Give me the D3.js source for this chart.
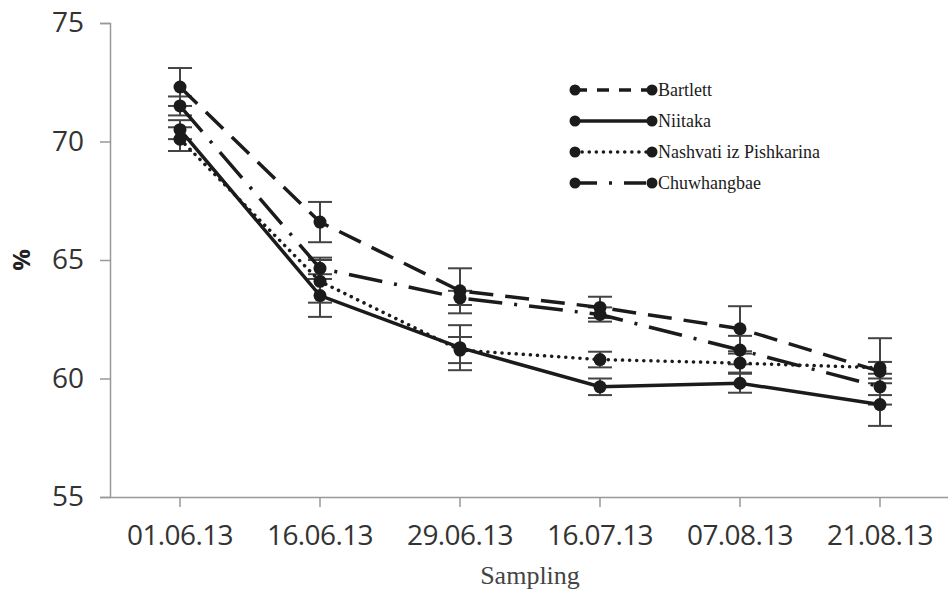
<!DOCTYPE html>
<html>
<head>
<meta charset="utf-8">
<script src="https://cdn.jsdelivr.net/npm/d3@7/dist/d3.min.js"></script>
<style>
  body { margin: 0; background: #fff; }
  svg { display: block; }
</style>
</head>
<body>
<svg></svg>
<script>
(() => {
    const categories = ["01.06.13", "16.06.13", "29.06.13", "16.07.13", "07.08.13", "21.08.13"];
    const yTicks = [55, 60, 65, 70, 75];

    const seriesNames = ["Bartlett", "Niitaka", "Nashvati iz Pishkarina", "Chuwhangbae"];
    const bartlett = [72.3, 66.6, 63.7, 63.0, 62.1, 60.3];
    const bartlettErr = [0.8, 0.85, 0.95, 0.45, 0.95, 1.4];
    const niitaka = [70.5, 63.5, 61.3, 59.65, 59.8, 58.9];
    const niitakaErr = [0.4, 0.9, 0.95, 0.35, 0.4, 0.9];
    const nashvati = [70.1, 64.1, 61.2, 60.8, 60.65, 60.45];
    const nashvatiErr = [0.5, 0.9, 0.55, 0.33, 0.4, 0.25];
    const chuwhangbae = [71.5, 64.65, 63.4, 62.7, 61.2, 59.65];
    const chuwhangbaeErr = [0.4, 0.45, 0.3, 0.3, 0.6, 0.35];

    const width = 948;
    const height = 594;
    const ink = "#1b1b1b";
    const axisColor = "#999";

    const series = [
        { name: seriesNames[0], values: bartlett, err: bartlettErr, dash: "24,12" },
        { name: seriesNames[1], values: niitaka, err: niitakaErr, dash: null },
        { name: seriesNames[2], values: nashvati, err: nashvatiErr, dash: "0.1,7", cap: "round" },
        { name: seriesNames[3], values: chuwhangbae, err: chuwhangbaeErr, dash: "34,12,3,12" }
    ];

    const xScale = d3.scaleBand()
        .domain(categories)
        .range([110, 950])
        .padding(0);

    const yScale = d3.scaleLinear()
        .domain([55, 75])
        .range([497, 23]);

    const cx = d => xScale(d) + xScale.bandwidth() / 2;

    const svg = d3.select("svg")
        .attr("width", width)
        .attr("height", height);

    // axes
    const yAxis = svg.append("g")
        .attr("transform", "translate(110,0)")
        .call(d3.axisLeft(yScale).tickValues(yTicks).tickSize(10).tickSizeOuter(10).tickPadding(16));
    yAxis.selectAll("path, line").attr("stroke", axisColor).attr("stroke-width", 1.5);
    yAxis.selectAll("text")
        .attr("font-family", "Open Sans, sans-serif")
        .attr("font-size", 28)
        .attr("fill", "#333");

    const xAxis = svg.append("g")
        .attr("transform", "translate(0,497)")
        .call(d3.axisBottom(xScale).tickSize(10).tickSizeOuter(0).tickPadding(18));
    xAxis.selectAll("path, line").attr("stroke", axisColor).attr("stroke-width", 1.5);
    xAxis.selectAll("text")
        .attr("font-family", "Open Sans, sans-serif")
        .attr("font-size", 28)
        .attr("letter-spacing", -0.6)
        .attr("fill", "#333");

    svg.append("text")
        .attr("transform", "translate(30,260) rotate(-90)")
        .attr("text-anchor", "middle")
        .attr("font-family", "Open Sans, sans-serif")
        .attr("font-weight", "bold")
        .attr("font-size", 24)
        .attr("fill", "#222")
        .text("%");

    svg.append("text")
        .attr("x", 530)
        .attr("y", 584)
        .attr("text-anchor", "middle")
        .attr("font-family", "Liberation Serif, serif")
        .attr("font-size", 26)
        .attr("fill", "#444")
        .text("Sampling");

    // error bars
    series.forEach(s => {
        const g = svg.append("g");
        s.values.forEach((v, i) => {
            const x = cx(categories[i]);
            const top = yScale(v + s.err[i]);
            const bot = yScale(v - s.err[i]);
            g.append("line").attr("x1", x).attr("x2", x).attr("y1", top).attr("y2", bot)
                .attr("stroke", "#444").attr("stroke-width", 2);
            [top, bot].forEach(y => {
                g.append("line").attr("x1", x - 12).attr("x2", x + 12).attr("y1", y).attr("y2", y)
                    .attr("stroke", "#444").attr("stroke-width", 2);
            });
        });
    });

    const line = d3.line()
        .x((d, i) => cx(categories[i]))
        .y(d => yScale(d));

    series.forEach(s => {
        svg.append("path")
            .datum(s.values)
            .attr("fill", "none")
            .attr("stroke", ink)
            .attr("stroke-width", 3.5)
            .attr("stroke-dasharray", s.dash)
            .attr("stroke-linecap", s.cap || "butt")
            .attr("d", line);
    });

    series.forEach(s => {
        svg.append("g").selectAll("circle")
            .data(s.values)
            .enter()
            .append("circle")
            .attr("cx", (d, i) => cx(categories[i]))
            .attr("cy", d => yScale(d))
            .attr("r", 6.5)
            .attr("fill", ink);
    });

    // legend
    const legend = svg.append("g").attr("transform", "translate(575,90)");
    series.forEach((s, i) => {
        const row = legend.append("g").attr("transform", `translate(0,${i * 31})`);
        row.append("line")
            .attr("x1", 0).attr("x2", 77).attr("y1", 0).attr("y2", 0)
            .attr("stroke", ink)
            .attr("stroke-width", 3.5)
            .attr("stroke-dasharray", s.dash === "24,12" ? "12,10" : s.dash === "34,12,3,12" ? "22,12,3,12" : s.dash)
            .attr("stroke-linecap", s.cap || "butt");
        row.selectAll("circle")
            .data([0, 77])
            .enter()
            .append("circle")
            .attr("cx", d => d)
            .attr("cy", 0)
            .attr("r", 5.5)
            .attr("fill", ink);
        row.append("text")
            .attr("x", 83)
            .attr("y", 6)
            .attr("font-family", "Liberation Serif, serif")
            .attr("font-size", 18)
            .attr("fill", ink)
            .text(s.name);
    });
})();
</script>
</body>
</html>
